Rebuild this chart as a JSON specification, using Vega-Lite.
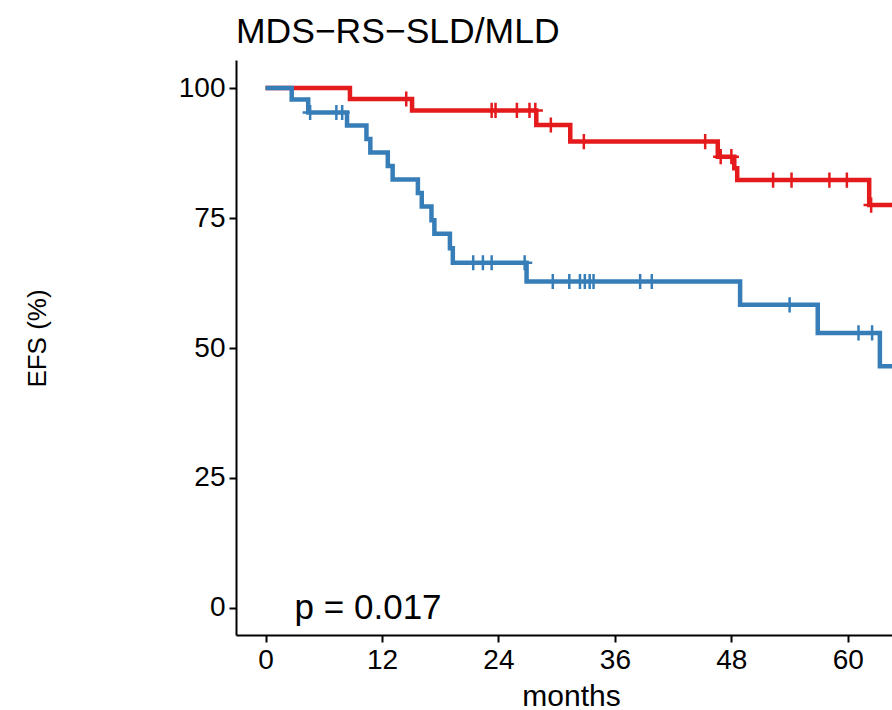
{
  "$schema": "https://vega.github.io/schema/vega-lite/v6.json",
  "width": 656,
  "height": 575,
  "autosize": "none",
  "padding": {"left": 236, "top": 60, "right": 0, "bottom": 75},
  "background": "white",
  "config": {
    "view": {"stroke": null},
    "font": "Liberation Sans",
    "axis": {
      "grid": false,
      "domainColor": "black",
      "domainWidth": 2,
      "tickColor": "black",
      "tickWidth": 2,
      "tickSize": 7,
      "labelFont": "Liberation Sans",
      "labelFontSize": 28,
      "labelColor": "black",
      "labelPadding": 4,
      "titleFont": "Liberation Sans",
      "titleFontSize": 26,
      "titleFontWeight": "normal",
      "titleColor": "black"
    }
  },
  "title": {
    "text": "MDS−RS−SLD/MLD",
    "anchor": "start",
    "frame": "group",
    "fontSize": 35.5,
    "fontWeight": "normal",
    "font": "Liberation Sans",
    "color": "black",
    "offset": 10
  },
  "datasets": {
    "curves": [
      {"group": "G1", "t": 0, "s": 100},
      {"group": "G1", "t": 8.7, "s": 97.9},
      {"group": "G1", "t": 15.1, "s": 95.7},
      {"group": "G1", "t": 27.9, "s": 92.9},
      {"group": "G1", "t": 31.4, "s": 89.7},
      {"group": "G1", "t": 46.6, "s": 86.8},
      {"group": "G1", "t": 48.3, "s": 84.6},
      {"group": "G1", "t": 48.6, "s": 82.3},
      {"group": "G1", "t": 62.2, "s": 77.5},
      {"group": "G1", "t": 66, "s": 77.5},
      {"group": "G2", "t": 0, "s": 100},
      {"group": "G2", "t": 2.7, "s": 97.8},
      {"group": "G2", "t": 4.4, "s": 95.3},
      {"group": "G2", "t": 8.4, "s": 92.8},
      {"group": "G2", "t": 10.4, "s": 90.2},
      {"group": "G2", "t": 10.8, "s": 87.6},
      {"group": "G2", "t": 12.6, "s": 85.0},
      {"group": "G2", "t": 13.1, "s": 82.4},
      {"group": "G2", "t": 15.7, "s": 79.8},
      {"group": "G2", "t": 16.1, "s": 77.2},
      {"group": "G2", "t": 17.1, "s": 74.6},
      {"group": "G2", "t": 17.4, "s": 72.0},
      {"group": "G2", "t": 19.0, "s": 69.2},
      {"group": "G2", "t": 19.3, "s": 66.4},
      {"group": "G2", "t": 26.9, "s": 62.8},
      {"group": "G2", "t": 48.9, "s": 58.3},
      {"group": "G2", "t": 56.9, "s": 52.9},
      {"group": "G2", "t": 63.3, "s": 46.5},
      {"group": "G2", "t": 66, "s": 46.5}
    ],
    "censors": [
      {"group": "G1", "t": 14.5, "s": 97.9},
      {"group": "G1", "t": 23.3, "s": 95.7},
      {"group": "G1", "t": 23.7, "s": 95.7},
      {"group": "G1", "t": 25.9, "s": 95.7},
      {"group": "G1", "t": 27.2, "s": 95.7},
      {"group": "G1", "t": 27.8, "s": 95.7},
      {"group": "G1", "t": 29.4, "s": 92.9},
      {"group": "G1", "t": 32.8, "s": 89.7},
      {"group": "G1", "t": 45.3, "s": 89.7},
      {"group": "G1", "t": 46.9, "s": 86.8},
      {"group": "G1", "t": 48.0, "s": 86.8},
      {"group": "G1", "t": 52.3, "s": 82.3},
      {"group": "G1", "t": 54.2, "s": 82.3},
      {"group": "G1", "t": 58.1, "s": 82.3},
      {"group": "G1", "t": 59.9, "s": 82.3},
      {"group": "G1", "t": 62.4, "s": 77.5},
      {"group": "G2", "t": 4.6, "s": 95.3},
      {"group": "G2", "t": 7.3, "s": 95.3},
      {"group": "G2", "t": 7.9, "s": 95.3},
      {"group": "G2", "t": 21.4, "s": 66.4},
      {"group": "G2", "t": 22.4, "s": 66.4},
      {"group": "G2", "t": 23.3, "s": 66.4},
      {"group": "G2", "t": 26.7, "s": 66.4},
      {"group": "G2", "t": 29.6, "s": 62.8},
      {"group": "G2", "t": 31.3, "s": 62.8},
      {"group": "G2", "t": 32.4, "s": 62.8},
      {"group": "G2", "t": 32.9, "s": 62.8},
      {"group": "G2", "t": 33.4, "s": 62.8},
      {"group": "G2", "t": 33.8, "s": 62.8},
      {"group": "G2", "t": 38.6, "s": 62.8},
      {"group": "G2", "t": 39.8, "s": 62.8},
      {"group": "G2", "t": 54.0, "s": 58.3},
      {"group": "G2", "t": 61.1, "s": 52.9},
      {"group": "G2", "t": 62.5, "s": 52.9}
    ],
    "pval": [
      {"label": "p = 0.017", "t": 3.0, "s": 0}
    ]
  },
  "layer": [
    {
      "data": {"name": "curves"},
      "mark": {"type": "line", "interpolate": "step-after", "strokeWidth": 4.5, "clip": true},
      "encoding": {
        "x": {
          "field": "t", "type": "quantitative",
          "scale": {"domain": [-3.04, 64.55], "nice": false, "zero": false},
          "axis": {
            "values": [0, 12, 24, 36, 48, 60],
            "title": "months",
            "titleFontSize": 30,
            "titleX": 335,
            "titleY": 70,
            "titleBaseline": "alphabetic"
          }
        },
        "y": {
          "field": "s", "type": "quantitative",
          "scale": {"domain": [-5.2, 105.4], "nice": false, "zero": false},
          "axis": {
            "values": [0, 25, 50, 75, 100],
            "title": "EFS (%)",
            "titleX": -199,
            "titleY": 278,
            "titleBaseline": "middle",
            "titleAlign": "center",
            "titleAngle": 270
          }
        },
        "color": {
          "field": "group", "type": "nominal",
          "scale": {"domain": ["G1", "G2"], "range": ["#E41A1C", "#377EB8"]},
          "legend": null
        }
      }
    },
    {
      "data": {"name": "censors"},
      "mark": {
        "type": "point",
        "shape": "M-1,0H1M0,-1V1",
        "size": 230,
        "strokeWidth": 2.5,
        "filled": false,
        "opacity": 1,
        "clip": true
      },
      "encoding": {
        "x": {"field": "t", "type": "quantitative"},
        "y": {"field": "s", "type": "quantitative"},
        "color": {"field": "group", "type": "nominal", "legend": null}
      }
    },
    {
      "data": {"name": "pval"},
      "mark": {
        "type": "text",
        "align": "left",
        "baseline": "middle",
        "fontSize": 35,
        "font": "Liberation Sans",
        "color": "black"
      },
      "encoding": {
        "x": {"field": "t", "type": "quantitative"},
        "y": {"field": "s", "type": "quantitative"},
        "text": {"field": "label"}
      }
    }
  ]
}
